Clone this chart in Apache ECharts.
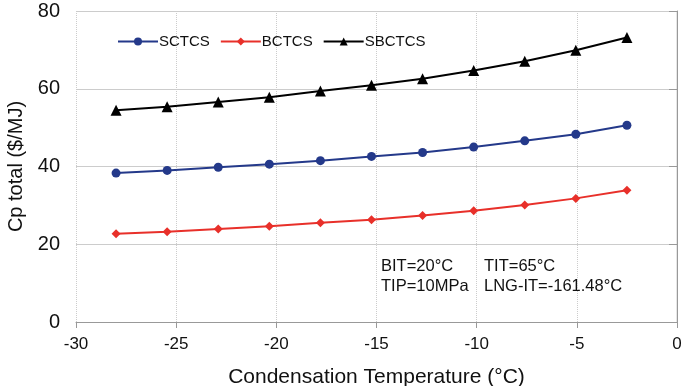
<!DOCTYPE html>
<html><head><meta charset="utf-8">
<script src="https://cdn.jsdelivr.net/npm/echarts@6/dist/echarts.min.js"></script>
<style>html,body{margin:0;padding:0;background:#fff}#c{width:685px;height:386px}</style>
</head><body><div id="c"></div>
<script>
const temps = [-28, -25.45, -22.9, -20.35, -17.8, -15.25, -12.7, -10.15, -7.6, -5.05, -2.5];
const sctcs = [38.3, 39.0, 39.8, 40.6, 41.5, 42.6, 43.6, 45.0, 46.6, 48.3, 50.6];
const bctcs = [22.7, 23.2, 23.9, 24.6, 25.5, 26.3, 27.4, 28.6, 30.1, 31.8, 33.9];
const sbctcs = [54.5, 55.4, 56.6, 57.8, 59.4, 60.9, 62.6, 64.7, 67.1, 69.9, 73.2];
const xTicks = [-30, -25, -20, -15, -10, -5, 0];
const yTicks = [0, 20, 40, 60, 80];
const notes = [["BIT=20°C", "TIP=10MPa"], ["TIT=65°C", "LNG-IT=-161.48°C"]];

const font = 'Liberation Sans, Arial, sans-serif';
const pair = a => temps.map((t, i) => [t, a[i]]);
const chart = echarts.init(document.getElementById('c'));
const mk = (name, data, color, symbol, size) => ({
  name, type: 'line', data: pair(data), symbol, symbolSize: size,
  lineStyle: { color, width: 2 }, itemStyle: { color }, animation: false
});
chart.setOption({
  animation: false,
  grid: { left: 76, right: 8, top: 11, bottom: 64, outerBoundsMode: 'none', containLabel: false },
  legend: {
    left: 112, top: 29, itemWidth: 40, itemHeight: 10, itemGap: 10,
    textStyle: { fontFamily: font, fontSize: 15, color: '#111', padding: [0, 0, 0, -4] },
    data: ['SCTCS', 'BCTCS', 'SBCTCS']
  },
  xAxis: {
    type: 'value', min: -30, max: 0, interval: 5,
    name: 'Condensation Temperature (°C)', nameLocation: 'middle', nameGap: 45,
    nameTextStyle: { fontFamily: font, fontSize: 21, color: '#111' },
    axisLine: { show: true, lineStyle: { color: '#999' } },
    axisTick: { show: true, length: 6, lineStyle: { color: '#999' } },
    axisLabel: { fontFamily: font, fontSize: 17, color: '#111', margin: 14 },
    splitLine: { show: true, lineStyle: { color: '#ccc', type: 'dotted' } }
  },
  yAxis: {
    type: 'value', min: 0, max: 80, interval: 20,
    name: 'Cp total ($/MJ)', nameLocation: 'middle', nameGap: 46,
    nameTextStyle: { fontFamily: font, fontSize: 20, color: '#111' },
    axisLine: { show: true, lineStyle: { color: '#999' } },
    axisTick: { show: true, length: 8, lineStyle: { color: '#999' } },
    axisLabel: { fontFamily: font, fontSize: 20, color: '#111', margin: 16 },
    splitLine: { show: true, lineStyle: { color: '#ccc' } }
  },
  graphic: [
    { type: 'line', shape: { x1: 677, y1: 11, x2: 677, y2: 322 }, style: { stroke: '#ccc', lineWidth: 1 } },
    { type: 'text', left: 381, top: 256, style: { text: notes[0].join('\n'), font: '16.5px ' + font, fill: '#111', lineHeight: 20 } },
    { type: 'text', left: 484, top: 256, style: { text: notes[1].join('\n'), font: '16.5px ' + font, fill: '#111', lineHeight: 20 } }
  ],
  series: [
    mk('SCTCS', sctcs, '#24398a', 'circle', 9),
    mk('BCTCS', bctcs, '#e8302a', 'diamond', 9),
    mk('SBCTCS', sbctcs, '#000000', 'triangle', 11)
  ]
});
</script></body></html>
